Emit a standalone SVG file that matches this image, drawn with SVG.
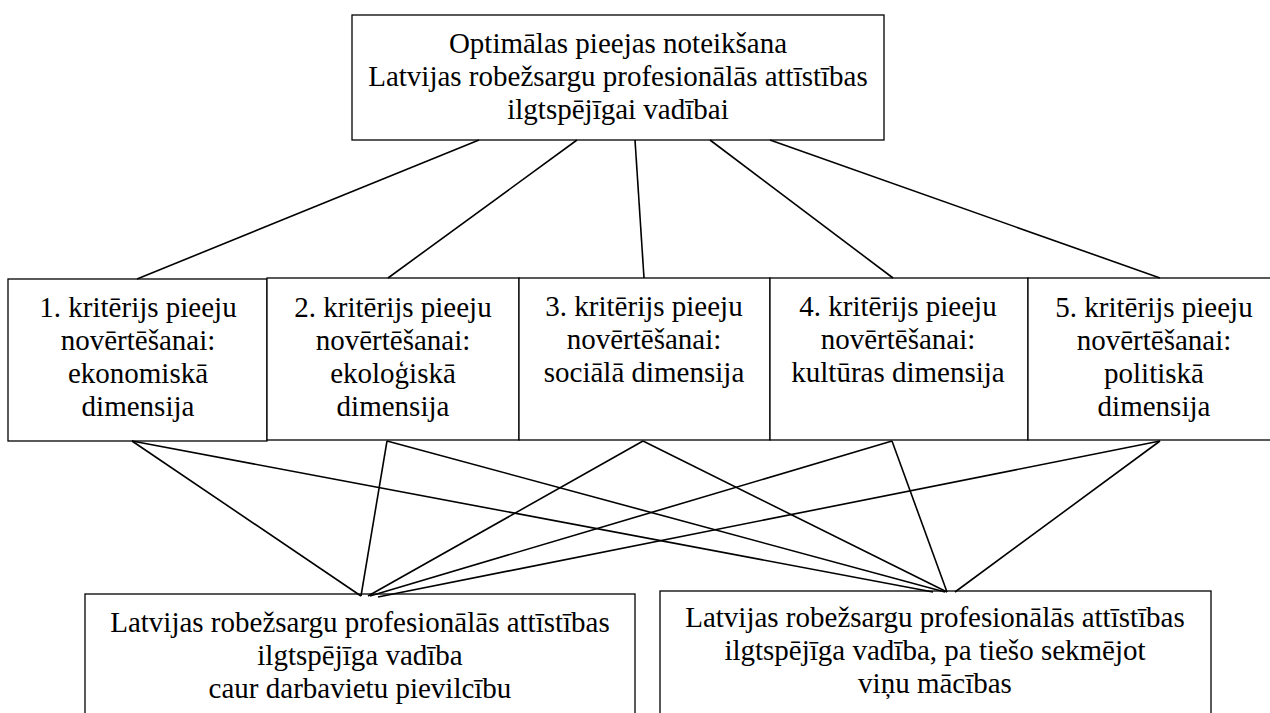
<svg xmlns="http://www.w3.org/2000/svg" width="1270" height="713" viewBox="0 0 1270 713">
<style>
.box{fill:#fff;stroke:#000;stroke-width:1.3}
text{font-family:'Liberation Serif','Tinos','Times New Roman',serif;font-size:29px;fill:#000;text-anchor:middle}
.c line{stroke:#000;stroke-width:1.6}
</style>
<rect width="1270" height="713" fill="#fff"/>
<g id="top">
<rect class="box" x="352" y="15" width="532" height="125"/>
<text x="618" y="53">Optimālas pieejas noteikšana</text>
<text x="618" y="86">Latvijas robežsargu profesionālās attīstības</text>
<text x="618" y="119">ilgtspējīgai vadībai</text>
</g>
<g id="k1">
<rect class="box" x="8" y="279" width="259" height="162"/>
<text x="138" y="317">1. kritērijs pieeju</text>
<text x="138" y="350">novērtēšanai:</text>
<text x="138" y="383">ekonomiskā</text>
<text x="138" y="416">dimensija</text>
</g>
<g id="k2">
<rect class="box" x="267" y="278" width="252" height="162"/>
<text x="393" y="317">2. kritērijs pieeju</text>
<text x="393" y="350">novērtēšanai:</text>
<text x="393" y="383">ekoloģiskā</text>
<text x="393" y="416">dimensija</text>
</g>
<g id="k3">
<rect class="box" x="519" y="278" width="251" height="162"/>
<text x="644" y="316">3. kritērijs pieeju</text>
<text x="644" y="349">novērtēšanai:</text>
<text x="644" y="382">sociālā dimensija</text>
</g>
<g id="k4">
<rect class="box" x="770" y="278" width="258" height="162"/>
<text x="898" y="316">4. kritērijs pieeju</text>
<text x="898" y="349">novērtēšanai:</text>
<text x="898" y="382">kultūras dimensija</text>
</g>
<g id="k5">
<rect class="box" x="1028" y="278" width="264" height="162"/>
<text x="1154" y="317">5. kritērijs pieeju</text>
<text x="1154" y="350">novērtēšanai:</text>
<text x="1154" y="383">politiskā</text>
<text x="1154" y="416">dimensija</text>
</g>
<g id="b1">
<rect class="box" x="85" y="594" width="550" height="130"/>
<text x="360" y="632">Latvijas robežsargu profesionālās attīstības</text>
<text x="360" y="665">ilgtspējīga vadība</text>
<text x="360" y="698">caur darbavietu pievilcību</text>
</g>
<g id="b2">
<rect class="box" x="660" y="591" width="551" height="133"/>
<text x="935" y="627">Latvijas robežsargu profesionālās attīstības</text>
<text x="935" y="660">ilgtspējīga vadība, pa tiešo sekmējot</text>
<text x="935" y="693">viņu mācības</text>
</g>
<g id="connectors" class="c">
<line x1="479" y1="140" x2="137" y2="279"/>
<line x1="577" y1="140" x2="388" y2="278"/>
<line x1="635" y1="140" x2="644" y2="278"/>
<line x1="710" y1="140" x2="893" y2="278"/>
<line x1="770" y1="140" x2="1160" y2="278"/>
<line x1="132" y1="441" x2="361" y2="596"/>
<line x1="387" y1="441" x2="361" y2="596"/>
<line x1="643" y1="441" x2="368" y2="596"/>
<line x1="892" y1="441" x2="370" y2="596"/>
<line x1="1160" y1="441" x2="378" y2="597"/>
<line x1="132" y1="441" x2="933" y2="592"/>
<line x1="387" y1="441" x2="945" y2="592"/>
<line x1="643" y1="441" x2="947" y2="592"/>
<line x1="892" y1="441" x2="947" y2="592"/>
<line x1="1160" y1="441" x2="955" y2="592"/>
</g>
</svg>
